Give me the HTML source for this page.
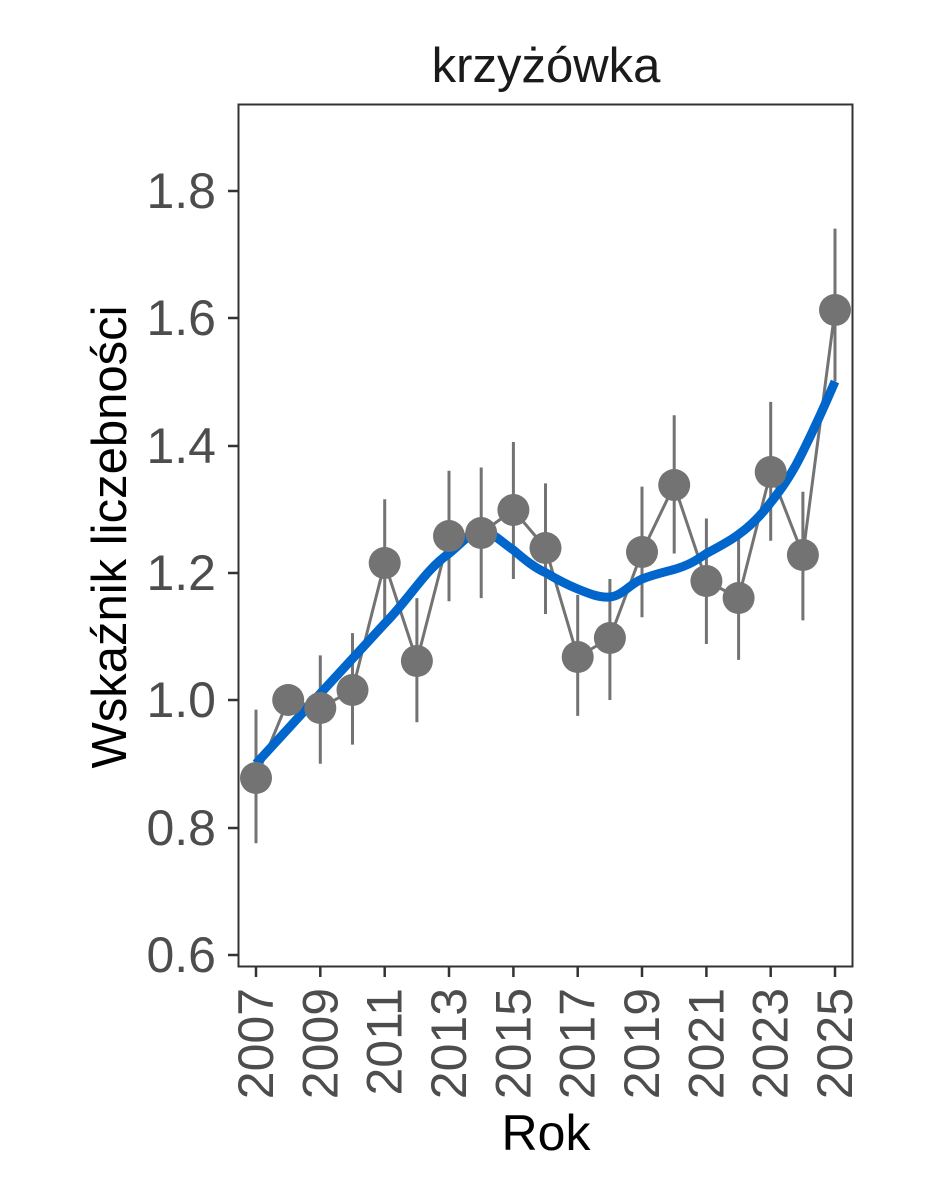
<!DOCTYPE html><html><head><style>body{margin:0;background:#fff}svg{display:block}</style></head><body>
<svg width="944" height="1181" xmlns="http://www.w3.org/2000/svg" font-family="Liberation Sans, sans-serif">
<rect width="944" height="1181" fill="#fff"/>
<text x="546" y="82" font-size="49" text-anchor="middle" fill="#1a1a1a">krzyżówka</text>
<rect x="238.5" y="104.5" width="614" height="862" fill="none" stroke="#333" stroke-width="2"/>
<g stroke="#333" stroke-width="2.5">
<line x1="228" y1="191" x2="238" y2="191"/><line x1="228" y1="318" x2="238" y2="318"/><line x1="228" y1="446" x2="238" y2="446"/><line x1="228" y1="573" x2="238" y2="573"/><line x1="228" y1="700" x2="238" y2="700"/><line x1="228" y1="828" x2="238" y2="828"/><line x1="228" y1="955" x2="238" y2="955"/>
<line x1="256" y1="967" x2="256" y2="977"/><line x1="320.3" y1="967" x2="320.3" y2="977"/><line x1="384.7" y1="967" x2="384.7" y2="977"/><line x1="449" y1="967" x2="449" y2="977"/><line x1="513.4" y1="967" x2="513.4" y2="977"/><line x1="577.7" y1="967" x2="577.7" y2="977"/><line x1="642" y1="967" x2="642" y2="977"/><line x1="706.4" y1="967" x2="706.4" y2="977"/><line x1="770.7" y1="967" x2="770.7" y2="977"/><line x1="835" y1="967" x2="835" y2="977"/>
</g>
<g font-size="50" fill="#4d4d4d" text-anchor="end">
<text x="216" y="208">1.8</text><text x="216" y="335">1.6</text><text x="216" y="463">1.4</text><text x="216" y="590">1.2</text><text x="216" y="717">1.0</text><text x="216" y="845">0.8</text><text x="216" y="972">0.6</text>
</g>
<g font-size="50" fill="#4d4d4d" text-anchor="end">
<text transform="translate(273,988) rotate(-90)">2007</text>
<text transform="translate(337.3,988) rotate(-90)">2009</text>
<text transform="translate(401.7,988) rotate(-90)">2011</text>
<text transform="translate(466,988) rotate(-90)">2013</text>
<text transform="translate(530.4,988) rotate(-90)">2015</text>
<text transform="translate(594.7,988) rotate(-90)">2017</text>
<text transform="translate(659,988) rotate(-90)">2019</text>
<text transform="translate(723.4,988) rotate(-90)">2021</text>
<text transform="translate(787.7,988) rotate(-90)">2023</text>
<text transform="translate(852,988) rotate(-90)">2025</text>
</g>
<text x="546" y="1150" font-size="50" text-anchor="middle" fill="#000">Rok</text>
<text transform="translate(126,537) rotate(-90)" font-size="49" text-anchor="middle" fill="#000">Wskaźnik liczebności</text>
<g stroke="#737373" stroke-width="3">
<line x1="256" y1="843.3" x2="256" y2="709.6"/>
<line x1="320.3" y1="763.7" x2="320.3" y2="655.4"/>
<line x1="352.5" y1="744.6" x2="352.5" y2="633.1"/>
<line x1="384.7" y1="626.7" x2="384.7" y2="499.3"/>
<line x1="416.9" y1="722.3" x2="416.9" y2="598.1"/>
<line x1="449" y1="601.3" x2="449" y2="470.7"/>
<line x1="481.2" y1="598.1" x2="481.2" y2="467.5"/>
<line x1="513.4" y1="579" x2="513.4" y2="442"/>
<line x1="545.5" y1="614" x2="545.5" y2="483.4"/>
<line x1="577.7" y1="715.9" x2="577.7" y2="594.9"/>
<line x1="609.9" y1="700" x2="609.9" y2="579"/>
<line x1="642" y1="617.2" x2="642" y2="486.6"/>
<line x1="674.2" y1="553.5" x2="674.2" y2="415.3"/>
<line x1="706.4" y1="644" x2="706.4" y2="518.5"/>
<line x1="738.6" y1="659.9" x2="738.6" y2="537.6"/>
<line x1="770.7" y1="540.7" x2="770.7" y2="401.9"/>
<line x1="802.9" y1="620.4" x2="802.9" y2="491.7"/>
<line x1="835" y1="381.5" x2="835" y2="228.6"/>
</g>
<polyline fill="none" stroke="#737373" stroke-width="3" points="256,778 288.2,700 320.3,708 352.5,690 384.7,563 416.9,661 449,536 481.2,533 513.4,510 545.5,548 577.7,657 609.9,638 642,552 674.2,485 706.4,581 738.6,598 770.7,472 802.9,555 835,310"/>
<path fill="none" stroke="#0066cc" stroke-width="9" stroke-linejoin="round" d="M256,763.7 L320.3,693.6 L384.7,623.6 C410,598 425,570 449,553.5 C462,543 470,532 481.2,531.2 C492,531 500,541 513.4,550 C525,560 535,568 545.5,572.6 C558,580 568,585 577.7,589 C590,594 600,598 609.9,597 C622,596 630,584 642,579 C655,574 665,572 674.2,569.4 C690,565 698,559 706.4,553.5 C720,546 730,541 738.6,534.4 C752,525 762,514 770.7,502.5 C785,485 795,468 802.9,451.6 C815,427 825,405 835,381.5"/>
<g fill="#737373">
<circle cx="256" cy="778" r="16"/><circle cx="288.2" cy="700" r="16"/><circle cx="320.3" cy="708" r="16"/><circle cx="352.5" cy="690" r="16"/><circle cx="384.7" cy="563" r="16"/><circle cx="416.9" cy="661" r="16"/><circle cx="449" cy="536" r="16"/><circle cx="481.2" cy="533" r="16"/><circle cx="513.4" cy="510" r="16"/><circle cx="545.5" cy="548" r="16"/><circle cx="577.7" cy="657" r="16"/><circle cx="609.9" cy="638" r="16"/><circle cx="642" cy="552" r="16"/><circle cx="674.2" cy="485" r="16"/><circle cx="706.4" cy="581" r="16"/><circle cx="738.6" cy="598" r="16"/><circle cx="770.7" cy="472" r="16"/><circle cx="802.9" cy="555" r="16"/><circle cx="835" cy="310" r="16"/>
</g>
</svg>
</body></html>
